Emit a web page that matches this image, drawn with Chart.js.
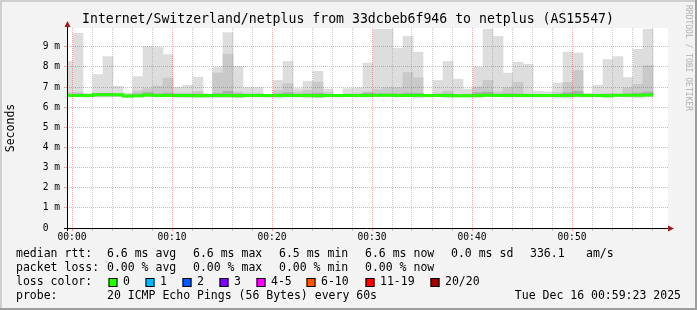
<!DOCTYPE html>
<html>
<head>
<meta charset="utf-8">
<script src="https://cdn.jsdelivr.net/npm/chart.js@4.4.1/dist/chart.umd.min.js"></script>
<style>
  html, body { margin: 0; padding: 0; background: #f3f3f3; }
  canvas { display: block; }
</style>
</head>
<body>
<canvas id="smoke" width="697" height="310"></canvas>
<script>
// one value per minute, first bar starts at 23:59:06 (= -0.9 min)
const firstBarStart = -0.9;

// outer smoke band (min .. max of the 20 pings), ms
const minRtt = [6.50, 6.52, 6.50, 6.50, 6.50, 6.52, 6.47, 6.50, 6.52, 6.50,
  6.52, 6.48, 6.48, 6.48, 6.46, 6.47, 6.48, 6.47, 6.50, 6.50,
  6.48, 6.45, 6.50, 6.50, 6.46, 6.47, 6.50, 6.50, 6.52, 6.50,
  6.50, 6.52, 6.52, 6.50, 6.52, 6.46, 6.50, 6.52, 6.47, 6.50,
  6.50, 6.47, 6.52, 6.52, 6.50, 6.50, 6.50, 6.50, 6.50, 6.46,
  6.45, 6.50, 6.50, 6.50, 6.48, 6.52, 6.50, 6.46, 6.50];
const maxRtt = [8.27, 9.67, 6.68, 7.62, 8.51, 7.03, 6.70, 7.52, 9.01, 8.96,
  8.61, 6.98, 7.08, 7.48, 6.66, 7.97, 9.70, 8.02, 6.97, 6.97,
  6.62, 7.33, 8.27, 6.92, 7.28, 7.78, 6.90, 6.64, 6.92, 6.96,
  8.19, 9.87, 9.87, 8.92, 9.51, 8.73, 6.62, 7.33, 8.27, 7.39,
  6.90, 7.99, 9.87, 9.51, 7.69, 8.23, 8.13, 6.80, 6.76, 7.20,
  8.73, 8.69, 6.68, 7.09, 8.36, 8.51, 7.47, 8.87, 9.87];

// middle and inner smoke bands
const bandLo = [6.54, 6.54, 6.54, 6.56, 6.56, 6.56, 6.52, 6.54, 6.55, 6.54,
  6.54, 6.54, 6.54, 6.54, 6.54, 6.54, 6.54, 6.54, 6.54, 6.54,
  6.54, 6.53, 6.54, 6.54, 6.54, 6.53, 6.54, 6.54, 6.54, 6.54,
  6.54, 6.55, 6.55, 6.54, 6.54, 6.54, 6.54, 6.54, 6.54, 6.53,
  6.53, 6.54, 6.55, 6.54, 6.54, 6.54, 6.54, 6.54, 6.54, 6.54,
  6.54, 6.55, 6.54, 6.54, 6.53, 6.55, 6.55, 6.55, 6.56];
const midHi = [6.72, 6.74, 6.62, 6.70, 6.70, 6.66, 6.62, 6.80, 6.92, 7.05,
  7.45, 6.70, 6.70, 6.78, 6.62, 7.70, 8.63, 6.75, 6.68, 6.68,
  6.60, 6.84, 7.17, 6.75, 6.84, 7.25, 6.72, 6.60, 6.66, 6.68,
  6.75, 6.87, 6.96, 6.96, 7.72, 7.46, 6.60, 6.70, 6.80, 6.62,
  6.66, 7.00, 7.33, 6.75, 6.96, 7.23, 6.66, 6.62, 6.62, 6.72,
  7.23, 7.82, 6.62, 6.66, 6.68, 6.66, 6.95, 7.13, 8.07];
const innerHi = [6.64, 6.66, 6.62, 6.68, 6.68, 6.66, 6.60, 6.66, 6.72, 6.66,
  6.70, 6.64, 6.64, 6.66, 6.60, 6.68, 6.78, 6.66, 6.64, 6.64,
  6.60, 6.66, 6.72, 6.64, 6.66, 6.70, 6.64, 6.60, 6.62, 6.64,
  6.70, 6.66, 6.66, 6.66, 6.70, 6.68, 6.60, 6.62, 6.66, 6.60,
  6.62, 6.72, 6.75, 6.64, 6.66, 6.66, 6.62, 6.60, 6.60, 6.64,
  6.72, 6.78, 6.60, 6.62, 6.64, 6.62, 6.66, 6.70, 6.75];

// median rtt (green = 0 loss)
const medianRtt = [6.58, 6.58, 6.58, 6.62, 6.62, 6.62, 6.55, 6.57, 6.60, 6.58,
  6.58, 6.58, 6.58, 6.57, 6.58, 6.58, 6.58, 6.57, 6.58, 6.58,
  6.58, 6.58, 6.58, 6.58, 6.58, 6.57, 6.58, 6.58, 6.58, 6.58,
  6.58, 6.59, 6.59, 6.58, 6.58, 6.59, 6.58, 6.58, 6.58, 6.57,
  6.57, 6.58, 6.59, 6.58, 6.58, 6.58, 6.58, 6.58, 6.58, 6.58,
  6.58, 6.59, 6.58, 6.58, 6.57, 6.59, 6.59, 6.59, 6.60];

const xTickLabels = ['00:00', '00:10', '00:20', '00:30', '00:40', '00:50'];
const yTickLabels = ['0  ', '1 m', '2 m', '3 m', '4 m', '5 m', '6 m', '7 m', '8 m', '9 m'];

// legend text
const titleText = 'Internet/Switzerland/netplus from 33dcbeb6f946 to netplus (AS15547)';
const rttStats = ['6.6 ms avg', '6.6 ms max', '6.5 ms min', '6.6 ms now', '0.0 ms sd', '336.1', 'am/s'];
const lossStats = ['0.00 % avg', '0.00 % max', '0.00 % min', '0.00 % now'];
const lossBins = ['0', '1', '2', '3', '4-5', '6-10', '11-19', '20/20'];
const lossColors = ['#26ff00', '#00b8ff', '#0059ff', '#7e00ff', '#ff00ff', '#ff5500', '#ff0000', '#a10000'];
const probeText = '20 ICMP Echo Pings (56 Bytes) every 60s';
const dateText = 'Tue Dec 16 00:59:23 2025';

function bandPoints(lo, hi) {
  return hi.map((v, i) => ({ x: firstBarStart + i + 0.5, y: [lo[i], v] }));
}
const medianPoints = medianRtt.map((v, i) => ({ x: firstBarStart + i, y: v }));
medianPoints.push({ x: firstBarStart + medianRtt.length, y: medianRtt[medianRtt.length - 1] });

const MONO = "'DejaVu Sans Mono', monospace";
Chart.defaults.font.family = MONO;
Chart.defaults.color = '#000';

const redGrid = 'rgba(255,0,0,0.35)';
const grayGrid = 'rgba(128,128,128,0.4)';

const frame = {
  id: 'frame',
  beforeDraw(chart) {
    const c = chart.ctx, a = chart.chartArea;
    c.save();
    c.fillStyle = '#f3f3f3';
    c.fillRect(0, 0, chart.width, chart.height);
    c.fillStyle = '#cfcfcf';
    c.fillRect(0, 0, chart.width, 2);
    c.fillRect(0, 0, 2, chart.height);
    c.fillStyle = '#9e9e9e';
    c.fillRect(chart.width - 2, 0, 2, chart.height);
    c.fillRect(0, chart.height - 2, chart.width, 2);
    c.fillStyle = '#fff';
    c.fillRect(a.left, a.top, a.right - a.left, a.bottom - a.top);
    c.restore();
  },
  afterDraw(chart) {
    const c = chart.ctx, a = chart.chartArea;
    c.save();
    // axes
    c.strokeStyle = '#000';
    c.lineWidth = 1;
    c.beginPath();
    c.moveTo(a.left - 3, a.bottom + 0.5);
    c.lineTo(a.right + 1, a.bottom + 0.5);
    c.moveTo(a.left + 0.5, a.bottom + 3);
    c.lineTo(a.left + 0.5, a.top - 2);
    c.stroke();
    c.fillStyle = '#9b1c1c';
    c.beginPath();
    c.moveTo(a.right, a.bottom - 2.5);
    c.lineTo(a.right + 6, a.bottom + 0.5);
    c.lineTo(a.right, a.bottom + 3.5);
    c.fill();
    c.beginPath();
    c.moveTo(a.left - 2.5, a.top - 1);
    c.lineTo(a.left + 0.5, a.top - 7);
    c.lineTo(a.left + 3.5, a.top - 1);
    c.fill();

    // title
    c.fillStyle = '#000';
    c.textBaseline = 'middle';
    c.textAlign = 'center';
    c.font = '13.2px ' + MONO;
    c.fillText(titleText, 348, 20);

    // watermark
    c.save();
    c.translate(688, 5);
    c.rotate(Math.PI / 2);
    c.textAlign = 'left';
    c.fillStyle = '#b0b0b0';
    c.font = '8px ' + MONO;
    c.fillText('RRDTOOL / TOBI OETIKER', 0, 0);
    c.restore();

    // legend rows
    c.font = '11.5px ' + MONO;
    c.textAlign = 'left';
    const col0 = 16;
    const rttX = [107, 193, 279, 365, 451, 530, 586];
    c.fillText('median rtt:', col0, 254.5);
    rttStats.forEach((t, i) => c.fillText(t, rttX[i], 254.5));
    c.fillText('packet loss:', col0, 268.5);
    lossStats.forEach((t, i) => c.fillText(t, rttX[i], 268.5));
    c.fillText('loss color:', col0, 282.5);
    const boxX = [108.5, 145.5, 182.5, 219.5, 256.5, 306.5, 365.5, 430.5];
    lossBins.forEach((t, i) => {
      c.fillStyle = lossColors[i];
      c.fillRect(boxX[i], 278, 9, 9);
      c.strokeStyle = '#000';
      c.strokeRect(boxX[i] + 0.5, 278.5, 8, 8);
      c.fillStyle = '#000';
      c.fillText(t, boxX[i] + 14.5, 282.5);
    });
    c.fillText('probe:', col0, 296.5);
    c.fillText(probeText, 107, 296.5);
    c.textAlign = 'right';
    c.fillText(dateText, 681, 296.5);
    c.restore();
  }
};

const ctx = document.getElementById('smoke').getContext('2d');
new Chart(ctx, {
  type: 'bar',
  data: {
    datasets: [
      { type: 'line', data: medianPoints, borderColor: '#26ff00', borderWidth: 3,
        stepped: true, pointRadius: 0, fill: false },
      { data: bandPoints(bandLo, innerHi), backgroundColor: '#ababab', grouped: false },
      { data: bandPoints(bandLo, midHi), backgroundColor: '#c9c9c9', grouped: false },
      { data: bandPoints(minRtt, maxRtt), backgroundColor: '#dddddd', grouped: false }
    ]
  },
  options: {
    responsive: false,
    animation: false,
    devicePixelRatio: 1,
    events: [],
    layout: { padding: { top: 28, right: 29, left: 0, bottom: 0 } },
    datasets: { bar: { barPercentage: 1, categoryPercentage: 1, borderWidth: 0 } },
    plugins: { legend: { display: false }, tooltip: { enabled: false } },
    scales: {
      x: {
        type: 'linear', min: -0.5, max: 59.6, offset: false,
        afterFit: s => { s.height = 82; },
        ticks: {
          stepSize: 2, includeBounds: false, autoSkip: false, maxRotation: 0,
          maxTicksLimit: 100, padding: 1, font: { size: 9.6 },
          callback: v => (v % 10 === 0 ? xTickLabels[v / 10] : '')
        },
        grid: {
          z: 1, offset: false, tickLength: 3,
          color: c => (c.tick.value % 10 === 0 ? redGrid : grayGrid),
          tickColor: c => (c.tick.value % 10 === 0 ? redGrid : grayGrid)
        },
        border: { display: false, dash: [1, 1] }
      },
      y: {
        min: 0, max: 9.93,
        afterFit: s => { s.width = 67; },
        ticks: {
          stepSize: 0.5, includeBounds: false, maxTicksLimit: 100, padding: 4,
          font: { size: 9.6 },
          callback: v => (Number.isInteger(v) ? yTickLabels[v] : '')
        },
        grid: {
          z: 1, tickLength: 3,
          color: c => (Number.isInteger(c.tick.value) ? redGrid : grayGrid),
          tickColor: c => (Number.isInteger(c.tick.value) ? redGrid : grayGrid)
        },
        border: { display: false, dash: [1, 1] },
        title: { display: true, text: 'Seconds', font: { size: 11.5 }, padding: { top: 4, bottom: 0 } }
      }
    }
  },
  plugins: [frame]
});
</script>
</body>
</html>
